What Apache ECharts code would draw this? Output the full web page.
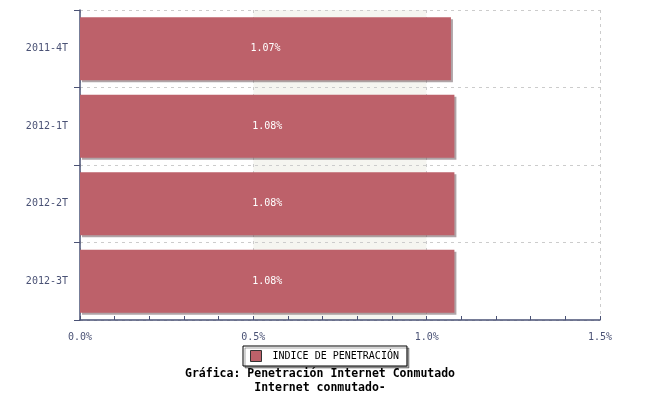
<!DOCTYPE html>
<html>
<head>
<meta charset="utf-8">
<script src="https://cdn.jsdelivr.net/npm/echarts@6/dist/echarts.min.js"></script>
<style>html,body{margin:0;padding:0;background:#fff}#c{width:650px;height:400px}</style>
</head>
<body>
<div id="c"></div>
<script>
const categories = ['2011-4T', '2012-1T', '2012-2T', '2012-3T'];
const values = [1.07, 1.08, 1.08, 1.08];
const seriesName = 'INDICE DE PENETRACIÓN';
const titleLines = ['Gráfica: Penetración Internet Conmutado', 'Internet conmutado-'];
const xMin = 0, xMax = 1.5, xStep = 0.5;

const mono = '"DejaVu Sans Mono", "Liberation Mono", monospace';
const axisColor = '#4a5275';
const chart = echarts.init(document.getElementById('c'), null, {renderer: 'canvas'});
chart.setOption({
  animation: false,
  backgroundColor: '#fff',
  title: {
    text: titleLines.join('\n'),
    left: 320,
    textAlign: 'center',
    top: 367,
    padding: 0,
    textStyle: {fontFamily: mono, fontSize: 11.5, fontWeight: 'bold', color: '#000', lineHeight: 14}
  },
  legend: {
    data: [seriesName],
    formatter: n => ' ' + n,
    left: 243,
    top: 346,
    padding: [4, 8, 4, 7],
    borderColor: '#000',
    borderWidth: 1,
    backgroundColor: '#fff',
    shadowColor: 'rgba(0,0,0,0.35)',
    shadowOffsetX: 2,
    shadowOffsetY: 2,
    shadowBlur: 0,
    icon: 'rect',
    itemWidth: 11,
    itemHeight: 11,
    itemGap: 6,
    itemStyle: {borderColor: '#333', borderWidth: 1},
    textStyle: {fontFamily: mono, fontSize: 10, color: '#000'}
  },
  grid: {left: 80, right: 50, top: 10, bottom: 80, containLabel: false},
  xAxis: [{
    type: 'value',
    min: xMin,
    max: xMax,
    interval: xStep,
    z: 0,
    axisLine: {show: false},
    axisTick: {show: false},
    axisLabel: {show: false},
    splitLine: {show: true, lineStyle: {color: '#ccc', type: [3, 4]}},
    splitArea: {show: true, areaStyle: {color: ['#ffffff', '#f5f5f0']}}
  }, {
    type: 'value',
    position: 'bottom',
    min: xMin,
    max: xMax,
    interval: xStep,
    z: 3,
    axisLine: {show: true, onZero: false, lineStyle: {color: axisColor, width: 1.5}},
    axisTick: {show: true, inside: true, length: 4, lineStyle: {color: axisColor}},
    minorTick: {show: true, splitNumber: 5, length: 4, lineStyle: {color: axisColor}},
    axisLabel: {
      formatter: v => v.toFixed(1) + '%',
      fontFamily: mono, fontSize: 10, color: axisColor, margin: 12
    },
    splitLine: {show: false},
    splitArea: {show: false}
  }],
  yAxis: {
    type: 'category',
    data: categories,
    inverse: true,
    z: 1,
    axisLine: {show: true, lineStyle: {color: axisColor, width: 1.5}},
    axisTick: {show: true, length: 6, lineStyle: {color: axisColor}},
    axisLabel: {fontFamily: mono, fontSize: 10, color: axisColor, margin: 12},
    splitLine: {show: true, interval: 0, lineStyle: {color: '#ccc', type: [3, 4]}}
  },
  series: [{
    name: seriesName,
    type: 'bar',
    xAxisIndex: 0,
    data: values,
    barWidth: '81%',
    itemStyle: {
      color: '#bd616a',
      shadowColor: 'rgba(110,90,95,0.55)',
      shadowOffsetX: 2,
      shadowOffsetY: 2,
      shadowBlur: 0
    },
    label: {
      show: true,
      position: 'inside',
      formatter: p => p.value.toFixed(2) + '%',
      fontFamily: mono, fontSize: 10, color: '#fff'
    }
  }]
});
</script>
</body>
</html>
